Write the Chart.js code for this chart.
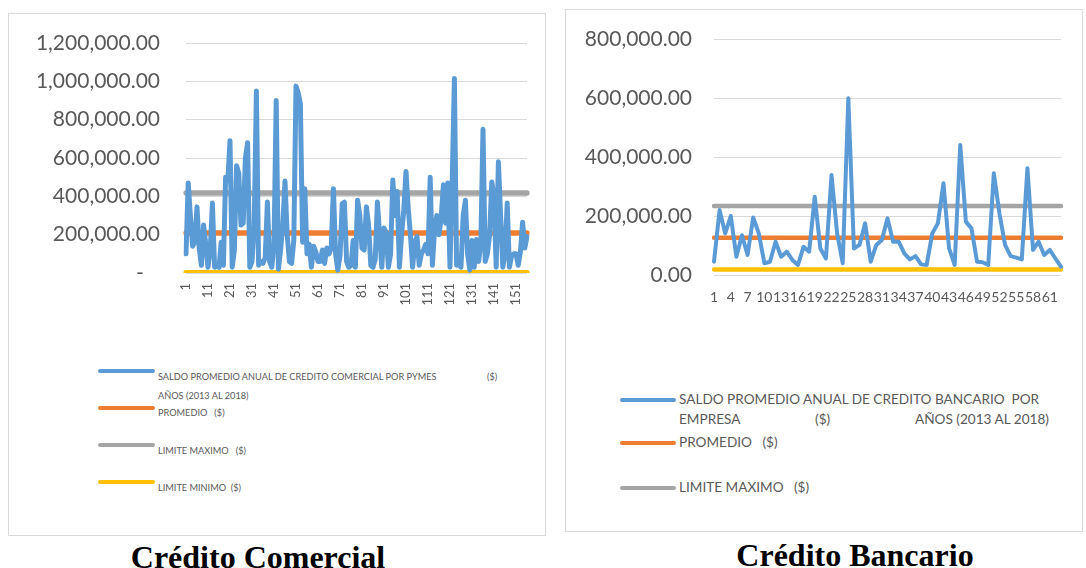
<!DOCTYPE html>
<html>
<head>
<meta charset="utf-8">
<script src="https://cdn.jsdelivr.net/npm/chart.js@4.4.0/dist/chart.umd.min.js"></script>
<style>
  body { margin:0; background:#fff; width:1086px; height:568px; overflow:hidden; position:relative; font-family:Lato, "Open Sans", sans-serif; }
  .box { position:absolute; border:1px solid #d9d9d9; box-sizing:border-box; }
  canvas { position:absolute; }
  .lg { position:absolute; color:#595959; white-space:pre; line-height:1; }
  .sw { position:absolute; border-radius:3px; }
  .title { position:absolute; font-family:"Liberation Serif","Times New Roman",serif; font-weight:bold; font-size:32px; line-height:1; color:#000; text-align:center; width:400px; }
</style>
</head>
<body>
<div class="box" style="left:8px;top:13px;width:538px;height:523px"></div>
<div class="box" style="left:565px;top:9px;width:518px;height:523px"></div>
<canvas id="cCom" width="535" height="300" style="left:9px;top:14px"></canvas>
<canvas id="cBan" width="515" height="300" style="left:566px;top:10px"></canvas>
<div id="legendas"></div>
<div class="title" style="left:58px;top:541px">Crédito Comercial</div>
<div class="title" style="left:655px;top:539px">Crédito Bancario</div>
<script>
// Saldo promedio anual de crédito comercial por PYMES ($), 2013-2018
const saldoComercial = [
  100000, 470000, 300000, 140000, 160000, 345000, 130000, 40000, 250000, 150000,
  30000, 120000, 365000, 30000, 40000, 30000, 160000, 40000, 500000, 480000,
  690000, 30000, 120000, 560000, 520000, 250000, 260000, 600000, 680000, 30000,
  60000, 250000, 950000, 40000, 60000, 50000, 80000, 370000, 60000, 30000,
  150000, 900000, 20000, 120000, 250000, 480000, 200000, 60000, 50000, 170000,
  975000, 940000, 880000, 160000, 440000, 100000, 150000, 30000, 140000, 110000,
  60000, 60000, 120000, 50000, 130000, 100000, 130000, 440000, 100000, 15000,
  90000, 360000, 370000, 60000, 30000, 40000, 170000, 30000, 380000, 300000,
  130000, 120000, 345000, 250000, 40000, 30000, 70000, 370000, 200000, 30000,
  235000, 210000, 30000, 100000, 485000, 300000, 425000, 30000, 200000, 330000,
  530000, 340000, 200000, 30000, 160000, 190000, 40000, 100000, 120000, 150000,
  100000, 500000, 40000, 230000, 300000, 200000, 290000, 460000, 260000, 470000,
  30000, 480000, 1015000, 40000, 50000, 30000, 300000, 380000, 100000, 15000,
  170000, 30000, 175000, 60000, 150000, 750000, 60000, 100000, 200000, 475000,
  400000, 30000, 580000, 300000, 30000, 100000, 365000, 30000, 90000, 100000,
  100000, 40000, 110000, 265000, 130000, 190000
];
const promedioComercial = 209000;
const maximoComercial = 418000;
const minimoComercial = 1500;

// Saldo promedio anual de crédito bancario por empresa ($), 2013-2018
const saldoBancario = [
  45000, 220000, 141000, 200000, 62000, 135000, 68000, 195000, 141000, 40000,
  45000, 113000, 62000, 79000, 51000, 34000, 96000, 79000, 265000, 90000,
  56000, 339000, 141000, 40000, 599000, 90000, 102000, 175000, 45000, 102000,
  119000, 192000, 113000, 113000, 73000, 53000, 64000, 36000, 34000, 141000,
  175000, 311000, 90000, 34000, 441000, 181000, 158000, 45000, 43000, 34000,
  345000, 209000, 102000, 64000, 59000, 53000, 362000, 85000, 113000, 68000,
  85000, 56000, 28000
];
const promedioBancario = 126000;
const maximoBancario = 234000;
const minimoBancario = 19000;

// Category labels (company number) and visible tick steps
const categoriasComercial = saldoComercial.map((_, i) => String(i + 1));
const categoriasBancario = saldoBancario.map((_, i) => String(i + 1));
const pasoEtiquetaComercial = 10;
const pasoEtiquetaBancario = 3;

// Series names
const nombreSaldoCom = 'SALDO PROMEDIO ANUAL DE CREDITO COMERCIAL POR PYMES ($) AÑOS (2013 AL 2018)';
const nombreSaldoBan = 'SALDO PROMEDIO ANUAL DE CREDITO BANCARIO  POR EMPRESA ($) AÑOS (2013 AL 2018)';
const nombrePromedio = 'PROMEDIO   ($)';
const nombreMaximo = 'LIMITE MAXIMO   ($)';
const nombreMinimo = 'LIMITE MINIMO  ($)';

const AZUL = '#5B9BD5', NARANJA = '#ED7D31', GRIS = '#A5A5A5', AMARILLO = '#FFC000';
const TXT = '#595959', REJILLA = '#D9D9D9';
const FUENTE = 'Lato, "Open Sans", sans-serif';

function miles(v) {
  const s = Math.abs(v).toFixed(2);
  const [ent, dec] = s.split('.');
  return ent.replace(/\B(?=(\d{3})+(?!\d))/g, ',') + '.' + dec;
}

function constante(valor, n) { return new Array(n).fill(valor); }

function serie(label, data, color, width) {
  return { label, data, borderColor: color, backgroundColor: color, borderWidth: width,
           pointRadius: 0, pointHoverRadius: 0, tension: 0,
           borderJoinStyle: 'round', borderCapStyle: 'round', fill: false };
}

function crearGrafico(id, cfg) {
  return new Chart(document.getElementById(id), {
    type: 'line',
    data: { labels: cfg.categorias, datasets: cfg.datasets },
    options: {
      responsive: false, animation: false, events: [],
      layout: { padding: { top: 29, right: cfg.derecha, left: 0, bottom: 0 } },
      plugins: { legend: { display: false }, tooltip: { enabled: false } },
      scales: {
        x: {
          offset: false,
          grid: { display: false, drawTicks: false }, border: { display: false },
          ticks: {
            autoSkip: false, maxRotation: cfg.rot, minRotation: cfg.rot, padding: cfg.xPad,
            color: TXT, font: { family: FUENTE, size: cfg.xFont },
            callback: (v, i) => i % cfg.paso === 0 ? cfg.categorias[i] : ''
          },
          afterFit: s => { s.height = cfg.xAlto; s.paddingLeft = 0; s.paddingRight = 0; }
        },
        y: {
          min: 0, max: cfg.max,
          grid: { color: REJILLA, lineWidth: 1, drawTicks: false },
          border: { display: false },
          ticks: {
            stepSize: 200000, padding: cfg.yPad, color: TXT,
            font: { family: FUENTE, size: 21 },
            callback: v => v === 0 ? cfg.cero : miles(v)
          },
          afterFit: s => { s.width = cfg.yAncho; s.paddingTop = 0; s.paddingBottom = 0; }
        }
      }
    }
  });
}

const nCom = saldoComercial.length, nBan = saldoBancario.length;

crearGrafico('cCom', {
  categorias: categoriasComercial, paso: pasoEtiquetaComercial, max: 1200000,
  rot: 90, xPad: 10, xFont: 13, xAlto: 41, yAncho: 177, yPad: 26, derecha: 17, cero: '-   ',
  datasets: [
    serie(nombreSaldoCom, saldoComercial, AZUL, 5),
    serie(nombrePromedio, constante(promedioComercial, nCom), NARANJA, 5.5),
    serie(nombreMaximo, constante(maximoComercial, nCom), GRIS, 5.5),
    serie(nombreMinimo, constante(minimoComercial, nCom), AMARILLO, 5.5)
  ]
});

crearGrafico('cBan', {
  categorias: categoriasBancario, paso: pasoEtiquetaBancario, max: 800000,
  rot: 0, xPad: 14, xFont: 14, xAlto: 35, yAncho: 148, yPad: 22, derecha: 20, cero: '0.00',
  datasets: [
    serie(nombreSaldoBan, saldoBancario, AZUL, 4),
    serie(nombrePromedio, constante(promedioBancario, nBan), NARANJA, 4.5),
    serie(nombreMaximo, constante(maximoBancario, nBan), GRIS, 4.5),
    serie(nombreMinimo, constante(minimoBancario, nBan), AMARILLO, 4.5)
  ]
});

// Legend text pieces, wrapped as laid out under each chart
const [comLinea1, comLinea2] = nombreSaldoCom.split(' ($) ');
const [banParte1, banLinea3] = nombreSaldoBan.split(' ($) ');
const banCorte = banParte1.lastIndexOf(' ');
const banLinea1 = banParte1.slice(0, banCorte), banLinea2 = banParte1.slice(banCorte + 1);

const leyendas = [
  { x: 98, w: 57, h: 4.5, tx: 158, size: 9.2, items: [
    { color: AZUL, y: 371, lines: [[comLinea1, 0, 377], ['($)', 329, 377], [comLinea2, 0, 396]] },
    { color: NARANJA, y: 408, lines: [[nombrePromedio, 0, 413]] },
    { color: GRIS, y: 445, lines: [[nombreMaximo, 0, 451]] },
    { color: AMARILLO, y: 482, lines: [[nombreMinimo, 0, 488]] }
  ]},
  { x: 620, w: 56, h: 4, tx: 679, size: 13.6, items: [
    { color: AZUL, y: 400, lines: [[banLinea1, 0, 400], [banLinea2, 0, 420], ['($)', 136, 420], [banLinea3, 236, 420]] },
    { color: NARANJA, y: 443, lines: [[nombrePromedio, 0, 443]] },
    { color: GRIS, y: 488, lines: [[nombreMaximo, 0, 488]] }
  ]}
];
const cont = document.getElementById('legendas');
leyendas.forEach(L => {
  L.items.forEach(it => {
    const sw = document.createElement('div');
    sw.className = 'sw';
    sw.style.cssText = `left:${L.x}px;top:${it.y - L.h / 2}px;width:${L.w}px;height:${L.h}px;background:${it.color}`;
    cont.appendChild(sw);
    it.lines.forEach(([t, dx, cy]) => {
      const d = document.createElement('div');
      d.className = 'lg';
      d.textContent = t;
      d.style.cssText = `left:${L.tx + dx}px;top:${cy - L.size / 2}px;font-size:${L.size}px`;
      cont.appendChild(d);
    });
  });
});
</script>
</body>
</html>
